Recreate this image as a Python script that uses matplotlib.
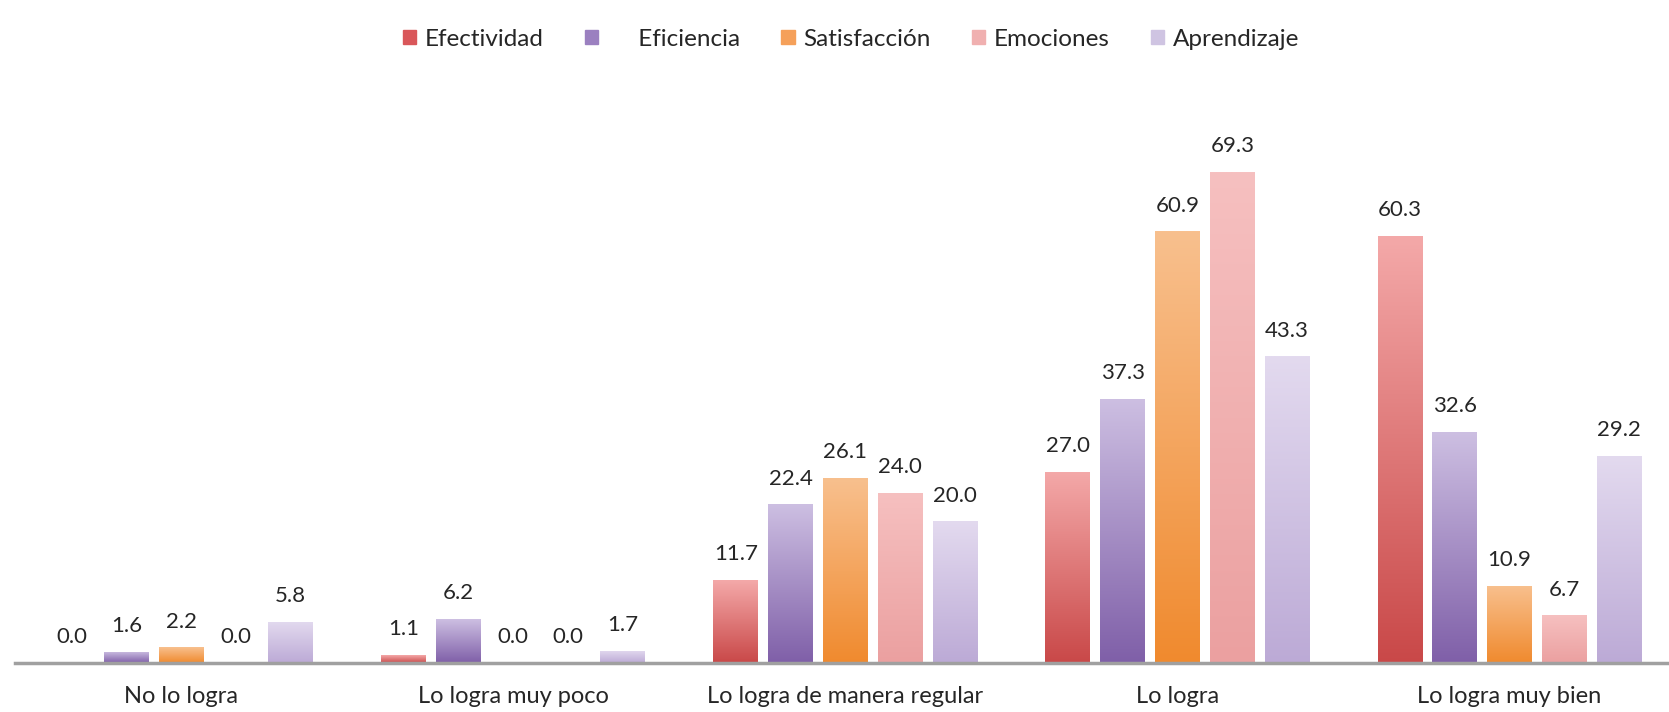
import numpy as np
import matplotlib
matplotlib.use("Agg")
import matplotlib.pyplot as plt
from matplotlib.colors import LinearSegmentedColormap
from matplotlib.patches import Patch

plt.rcParams['font.family'] = ['Lato', 'DejaVu Sans']

categorias = ["No lo logra", "Lo logra muy poco", "Lo logra de manera regular",
              "Lo logra", "Lo logra muy bien"]
series = ["Efectividad", "Eficiencia", "Satisfacción", "Emociones", "Aprendizaje"]
efectividad = [0.0, 1.1, 11.7, 27.0, 60.3]
eficiencia = [1.6, 6.2, 22.4, 37.3, 32.6]
satisfaccion = [2.2, 0.0, 26.1, 60.9, 10.9]
emociones = [0.0, 0.0, 24.0, 69.3, 6.7]
aprendizaje = [5.8, 1.7, 20.0, 43.3, 29.2]
valores = [efectividad, eficiencia, satisfaccion, emociones, aprendizaje]

# (abajo, arriba) para el degradado de cada serie
colores = [("#c94848", "#f4a9a9"),
           ("#7f5fa8", "#cdbfe2"),
           ("#f08a2e", "#f8c08e"),
           ("#eba0a0", "#f6c0c0"),
           ("#bcaad6", "#e3daef")]
leyenda_col = ["#d9575a", "#9b80c0", "#f5a05a", "#f0b0b0", "#cfc4e2"]

fig = plt.figure(figsize=(16.69, 7.12), dpi=100)
ax = fig.add_axes([0.009, 0.069, 0.991, 0.796])

x = np.arange(len(categorias))
ancho = 0.135
paso = 0.165
grad = np.linspace(0, 1, 256).reshape(-1, 1)

for i, (vals, (c0, c1)) in enumerate(zip(valores, colores)):
    pos = x + (i - 2) * paso
    barras = ax.bar(pos, vals, ancho, color="none", edgecolor="none")
    cmap = LinearSegmentedColormap.from_list("g%d" % i, [c0, c1])
    for b, v in zip(barras, vals):
        if v > 0:
            im = ax.imshow(grad, cmap=cmap, aspect="auto", origin="lower",
                           extent=(b.get_x(), b.get_x() + b.get_width(), 0, v),
                           zorder=2)
            im.set_clip_path(b)
        ax.text(b.get_x() + b.get_width() / 2, v + 2.2, "%.1f" % v,
                ha="center", va="bottom", fontsize=16, color="#262626")

ax.set_xlim(-0.5, 4.48)
ax.set_ylim(0, 80)
for s in ["top", "right", "left"]:
    ax.spines[s].set_visible(False)
ax.spines["bottom"].set_color("#a0a0a0")
ax.spines["bottom"].set_linewidth(2.5)
ax.set_yticks([])
ax.set_xticks(x)
ax.set_xticklabels(categorias, fontsize=17, color="#262626")
ax.tick_params(axis="x", length=0, pad=17)

handles = [Patch(color=c) for c in leyenda_col]
etiquetas = ["Efectividad", "     Eficiencia", "Satisfacción", "Emociones", "Aprendizaje"]
fig.legend(handles, etiquetas, loc="center", bbox_to_anchor=(0.51, 0.945), ncol=5,
           frameon=False, fontsize=17.5, handlelength=0.55, handleheight=0.55,
           handletextpad=0.35, columnspacing=1.7, labelcolor="#262626")

fig.savefig("out.png", dpi=100, facecolor="white")
